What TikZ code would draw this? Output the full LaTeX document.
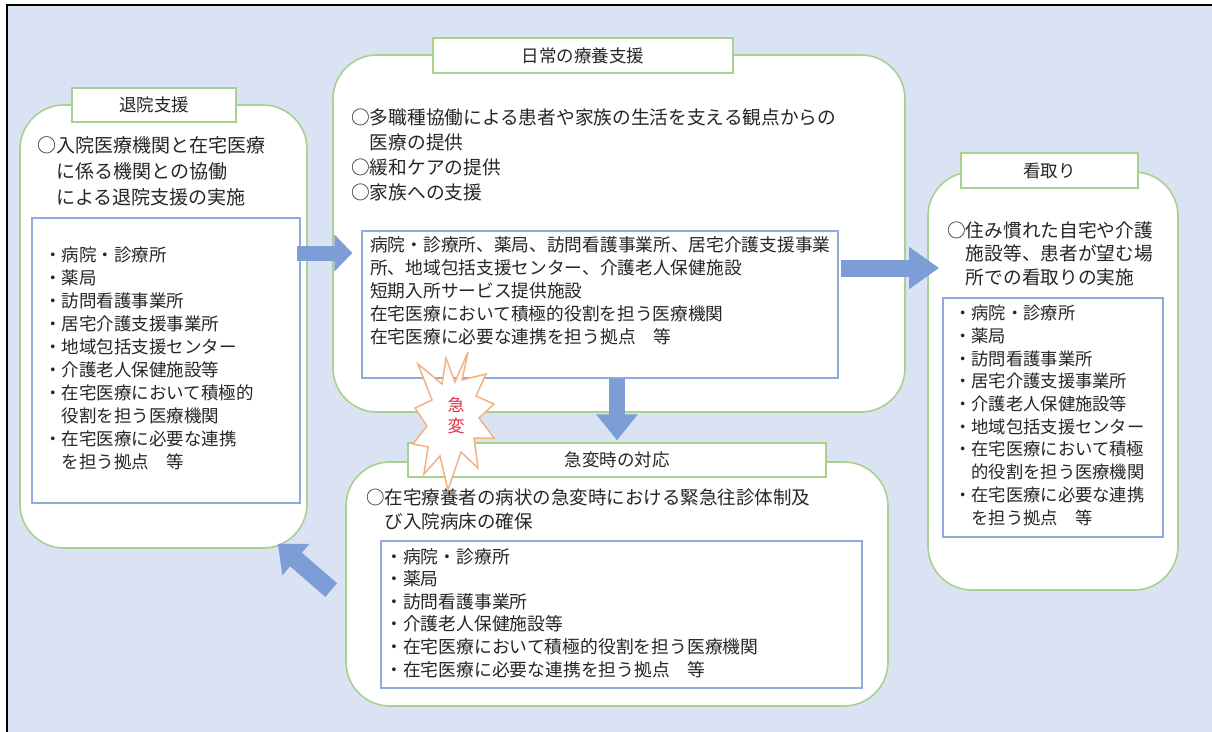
\documentclass[tikz,border=0pt]{standalone}
\usepackage{fontspec}
\setmainfont{Noto Sans CJK JP}
\usetikzlibrary{arrows.meta,calc}

\begin{document}
\begin{tikzpicture}[x=1pt,y=-1pt,
		roundbox/.style={draw=boxgreen, line width=1.6pt, fill=white, rounded corners=44pt, inner sep=0pt},
		titlebox/.style={draw=boxgreen, line width=1.4pt, fill=white, inner sep=0pt, text=textgray, font=\fontsize{17.5}{20}\selectfont},
		listbox/.style={draw=listblue, line width=1.3pt, fill=white, inner sep=0pt},
		bodytext/.style={anchor=north west, align=left, inner sep=0pt, text=textgray, font=\fontsize{18.7}{25}\selectfont},
		listtext/.style={anchor=north west, align=left, inner sep=0pt, text=textgray, font=\fontsize{17.5}{23}\selectfont},
		bigarrow/.style={line width=16pt, arrowblue, -{Triangle[length=26pt,width=40pt]}}]
			% Define colors
			\definecolor{bgblue}{RGB}{218,227,243}
			\definecolor{boxgreen}{RGB}{169,209,142}
			\definecolor{listblue}{RGB}{143,170,220}
			\definecolor{arrowblue}{RGB}{124,157,214}
			\definecolor{starorange}{RGB}{244,177,131}
			\definecolor{starred}{RGB}{226,45,70}
			\definecolor{textgray}{RGB}{38,38,38}
			
			% Frame
			\useasboundingbox (0,0) rectangle (1212,731);
			\clip (0,0) rectangle (1212,731);
			\fill[white] (0,0) rectangle (1212,731);
			\draw[line width=2.5pt, fill=bgblue] (7,5) rectangle (1230,750);
			
			% Outer boxes
			\node[roundbox, minimum width=287, minimum height=443] (discharge) at (163.5,326.5) {};
			\node[roundbox, minimum width=572, minimum height=357] (daily) at (619,233.5) {};
			\node[roundbox, minimum width=250, minimum height=418] (watch) at (1053,381) {};
			\node[roundbox, minimum width=542, minimum height=244] (emergency) at (617,584) {};
			
			% Titles
			\node[titlebox, minimum width=164, minimum height=34] (dischargetitle) at (154,105) {退院支援};
			\node[titlebox, minimum width=300, minimum height=35] (dailytitle) at (583,55.5) {日常の療養支援};
			\node[titlebox, minimum width=177, minimum height=35] (watchtitle) at (1049.5,170.5) {看取り};
			\node[titlebox, minimum width=418, minimum height=34] (emergtitle) at (617,460) {急変時の対応};
			
			% Inner list boxes
			\node[listbox, minimum width=268, minimum height=285] (dischargelist) at (166,360.5) {};
			\node[listbox, minimum width=476, minimum height=147] (dailylist) at (600,304.5) {};
			\node[listbox, minimum width=220, minimum height=239] (watchlist) at (1053,417.5) {};
			\node[listbox, minimum width=481, minimum height=147] (emerglist) at (621.5,614.5) {};
			
			% Body texts
			\node[bodytext, font=\fontsize{19}{26}\selectfont] (dischargetext) at (37,136.5) {○入院医療機関と在宅医療\\\hspace*{1em}に係る機関との協働\\\hspace*{1em}による退院支援の実施};
			\node[bodytext] (dailytext) at (351,108.5) {○多職種協働による患者や家族の生活を支える観点からの\\\hspace*{1em}医療の提供\\○緩和ケアの提供\\○家族への支援};
			\node[bodytext, font=\fontsize{18.7}{23.5}\selectfont] (watchtext) at (947,221.5) {○住み慣れた自宅や介護\\\hspace*{1em}施設等、患者が望む場\\\hspace*{1em}所での看取りの実施};
			\node[bodytext, font=\fontsize{18.5}{24}\selectfont] (emergtext) at (366,488.5) {○在宅療養者の病状の急変時における緊急往診体制及\\\hspace*{1em}び入院病床の確保};
			
			% List texts
			\node[listtext] (dischargeitems) at (44,247) {・病院・診療所\\・薬局\\・訪問看護事業所\\・居宅介護支援事業所\\・地域包括支援センター\\・介護老人保健施設等\\・在宅医療において積極的\\\hspace*{1em}役割を担う医療機関\\・在宅医療に必要な連携\\\hspace*{1em}を担う拠点　等};
			\node[listtext, font=\fontsize{17.7}{23}\selectfont] (dailyitems) at (370,236) {病院・診療所、薬局、訪問看護事業所、居宅介護支援事業\\所、地域包括支援センター、介護老人保健施設\\短期入所サービス提供施設\\在宅医療において積極的役割を担う医療機関\\在宅医療に必要な連携を担う拠点　等};
			\node[listtext, font=\fontsize{17.3}{22.7}\selectfont] (watchitems) at (954,305) {・病院・診療所\\・薬局\\・訪問看護事業所\\・居宅介護支援事業所\\・介護老人保健施設等\\・地域包括支援センター\\・在宅医療において積極\\\hspace*{1em}的役割を担う医療機関\\・在宅医療に必要な連携\\\hspace*{1em}を担う拠点　等};
			\node[listtext, font=\fontsize{17.8}{22.6}\selectfont] (emergitems) at (385,548) {・病院・診療所\\・薬局\\・訪問看護事業所\\・介護老人保健施設等\\・在宅医療において積極的役割を担う医療機関\\・在宅医療に必要な連携を担う拠点　等};
			
			% Arrows
			\draw[bigarrow, line width=15pt, -{Triangle[length=18pt,width=36pt]}] ($(dischargelist.east)+(-4,-107.5)$) -- ($(dailylist.west)+(-9,-51.5)$);
			\draw[bigarrow, line width=17pt, -{Triangle[length=30pt,width=40pt]}] ($(dailylist.east)+(2,-36.5)$) -- ($(watch.west)+(12,-113)$);
			\draw[bigarrow] ($(dailylist.south)+(17,0)$) -- ($(emergtitle.north)+(0,-2)$);
			\draw[bigarrow, line width=18pt, -{Triangle[length=24pt,width=40pt]}] ($(emergency.west)+(-14,6)$) -- ($(discharge.south east)+(-30,-5)$);
			
			% Burst
			\coordinate (burst) at (455,420);
			\draw[starorange, line width=1.5pt, fill=white, shift={(burst)}]
				(13,-68) -- (7,-40) -- (31,-46) -- (21,-24) -- (39,-16) -- (24,-2) -- (39,18) -- (19,18)
				-- (23,48) -- (6,32) -- (-7,70) -- (-15,36) -- (-31,54) -- (-27,27) -- (-42,24) -- (-28,6)
				-- (-40,-12) -- (-23,-20) -- (-37,-56) -- (-13,-36) -- (-9,-62) -- (0,-38) -- cycle;
			\node[align=center, inner sep=0pt, text=starred, font=\fontsize{17}{21}\selectfont] (burstlabel) at ($(burst)+(1,-4)$) {急\\変};
		\end{tikzpicture}
\end{document}
